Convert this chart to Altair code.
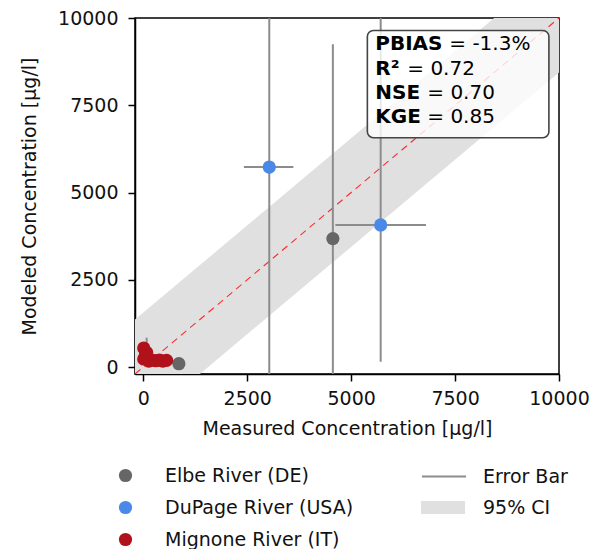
import altair as alt
import pandas as pd

# ---------------- data ----------------
rivers = ["Elbe River (DE)", "DuPage River (USA)", "Mignone River (IT)"]
river_colors = ["#666666", "#4a89e8", "#b0111b"]

pt_river = (["Elbe River (DE)"] * 2 + ["DuPage River (USA)"] * 2
            + ["Mignone River (IT)"] * 10)
pt_measured = [4560, 855, 3030, 5710,
               10, 80, 10, 130, 200, 300, 390, 470, 560, 50]
pt_modeled = [3680, 95, 5730, 4070,
              545, 420, 230, 170, 200, 180, 200, 170, 190, 330]

# error bars (segments): x1, x2, y1, y2
err_x1 = [3030, 2420, 5710, 4620, 4560, 80]
err_x2 = [3030, 3610, 5710, 6800, 4560, 80]
err_y1 = [-1500, 5730, 150, 4070, -1500, 100]
err_y2 = [11000, 5730, 10800, 4070, 9250, 840]

# 95% CI band around the 1:1 line
band_x = [-2000, 12000]
band_lo = [-3560, 10440]
band_hi = [-440, 13560]

# 1:1 line
line_x = [-200, 10000]
line_y = [-200, 10000]

ticks = [0, 2500, 5000, 7500, 10000]
dom = [-200, 10000]

stat_labels = ["PBIAS", "R²", "NSE", "KGE"]
stat_values = ["= -1.3%", "= 0.72", "= 0.70", "= 0.85"]
stat_y = [9268, 8551, 7862, 7174]
stat_label_x = 5580
stat_value_dx = [74, 32, 52, 52]

box_x1, box_x2, box_y1, box_y2 = 5390, 9757, 6571, 9641

# ---------------- chart ----------------
FONT = "DejaVu Sans"
FS = 19

xs = alt.Scale(domain=dom, nice=False, zero=False)
ys = alt.Scale(domain=dom, nice=False, zero=False)

points = pd.DataFrame({"river": pt_river, "x": pt_measured, "y": pt_modeled})
errs = pd.DataFrame({"x1": err_x1, "x2": err_x2, "y1": err_y1, "y2": err_y2,
                     "kind": ["Error Bar"] * len(err_x1)})
band = pd.DataFrame({"x": band_x, "lo": band_lo, "hi": band_hi,
                     "kind": ["95% CI"] * len(band_x)})
one2one = pd.DataFrame({"x": line_x, "y": line_y})
box = pd.DataFrame({"x1": [box_x1], "x2": [box_x2], "y1": [box_y1], "y2": [box_y2]})
stats = pd.DataFrame({"label": stat_labels, "value": stat_values,
                      "y": stat_y, "x": [stat_label_x] * 4})

x_axis = alt.Axis(values=ticks, format="d", title="Measured Concentration [μg/l]", grid=False,
                  tickSize=7, labelPadding=8, titlePadding=11, labelFlush=False)
y_axis = alt.Axis(values=ticks, format="d", title="Modeled Concentration [μg/l]", grid=False,
                  tickSize=7, labelPadding=10, titlePadding=18, labelFlush=False)

band_layer = alt.Chart(band).mark_area(clip=True, opacity=1).encode(
    x=alt.X("x:Q", scale=xs, axis=x_axis),
    y=alt.Y("lo:Q", scale=ys, axis=y_axis),
    y2="hi:Q",
    fill=alt.Fill("kind:N", scale=alt.Scale(domain=["95% CI"], range=["#e0e0e0"]),
                  legend=alt.Legend(title=None, orient="none", legendX=286, legendY=467.5,
                                    symbolType="M-1,-0.3H1V0.3H-1Z", symbolSize=1936,
                                    symbolStrokeWidth=0, labelOffset=18, padding=0,
                                    labelLimit=0,
                                    labelFontSize=FS, labelFont=FONT, labelColor="#111111")),
)

line_layer = alt.Chart(one2one).mark_line(clip=True, color="#ff2a2a", strokeWidth=1.1,
                                          strokeDash=[7, 5]).encode(
    x=alt.X("x:Q", scale=xs), y=alt.Y("y:Q", scale=ys))

err_layer = alt.Chart(errs).mark_rule(clip=True, strokeWidth=2).encode(
    x=alt.X("x1:Q", scale=xs), x2="x2:Q",
    y=alt.Y("y1:Q", scale=ys), y2="y2:Q",
    stroke=alt.Stroke("kind:N", scale=alt.Scale(domain=["Error Bar"], range=["#8c8c8c"]),
                      legend=alt.Legend(title=None, orient="none", legendX=286, legendY=435.5,
                                        symbolType="M-1,0H1", symbolSize=1936,
                                        symbolStrokeWidth=2, labelOffset=16, padding=0,
                                        labelLimit=0,
                                        labelFontSize=FS, labelFont=FONT, labelColor="#111111")),
)

pt_layer = alt.Chart(points).mark_circle(clip=True, size=175, opacity=1).encode(
    x=alt.X("x:Q", scale=xs), y=alt.Y("y:Q", scale=ys),
    color=alt.Color("river:N", scale=alt.Scale(domain=rivers, range=river_colors),
                    legend=alt.Legend(title=None, orient="none", legendX=-19, legendY=448,
                                      symbolType="circle", symbolSize=175, rowPadding=12,
                                      labelOffset=30, padding=0, symbolStrokeWidth=0,
                                      labelLimit=0,
                                      labelFontSize=FS, labelFont=FONT, labelColor="#111111")),
)

box_layer = alt.Chart(box).mark_rect(fill="white", fillOpacity=0.8, stroke="#444444",
                                     strokeWidth=1.6, cornerRadius=6).encode(
    x=alt.X("x1:Q", scale=xs), x2="x2:Q", y=alt.Y("y1:Q", scale=ys), y2="y2:Q")

label_layer = alt.Chart(stats).mark_text(align="left", baseline="middle", fontSize=20,
                                          fontWeight="bold", font=FONT, color="black").encode(
    x=alt.X("x:Q", scale=xs), y=alt.Y("y:Q", scale=ys), text="label:N")

value_layers = []
for i in range(len(stat_labels)):
    value_layers.append(
        alt.Chart(stats.iloc[[i]]).mark_text(align="left", baseline="middle", fontSize=20,
                                              font=FONT, color="black",
                                              dx=stat_value_dx[i]).encode(
            x=alt.X("x:Q", scale=xs), y=alt.Y("y:Q", scale=ys), text="value:N"))

chart = alt.layer(band_layer, line_layer, err_layer, pt_layer, box_layer, label_layer,
                  *value_layers).properties(
    width=424, height=356,
    padding={"left": 12, "top": 1, "right": 5, "bottom": 0},
).configure_view(stroke="black", strokeWidth=1.5).configure_axis(
    domainColor="black", domainWidth=1.5, tickColor="black", tickWidth=1.5,
    labelFont=FONT, labelFontSize=FS, labelColor="#111111",
    titleFont=FONT, titleFontSize=FS, titleFontWeight="normal", titleColor="#111111",
)

chart.save("out.html", embed_options={"renderer": "svg", "actions": False})
